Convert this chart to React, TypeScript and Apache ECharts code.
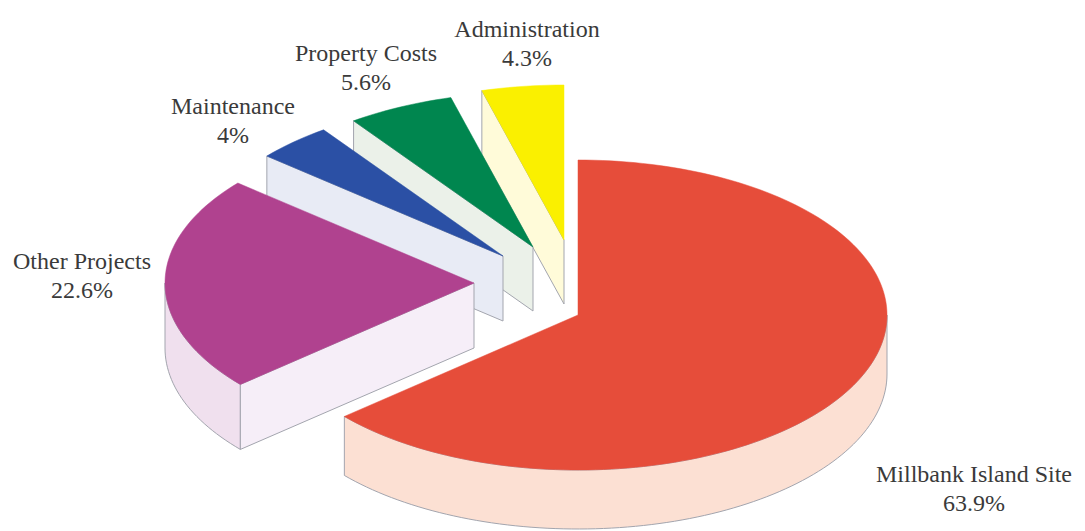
import React, { useEffect, useRef } from "react";
import * as echarts from "echarts";

const categories = ["Millbank Island Site", "Other Projects", "Maintenance", "Property Costs", "Administration"];
const percentages = [63.9, 22.6, 4, 5.6, 4.3];

const topColors = ["#E64D3A", "#B0428F", "#2B50A5", "#00864F", "#FAF000"];
const rimColors = ["#FCE0D3", "#F0E0EE", "#E8EBF5", "#EBF1E9", "#FFFBD9"];
const faceColors = ["#FCE0D3", "#F6EEF8", "#E8EBF5", "#EBF1E9", "#FFFBD9"];

// Where each exploded slice's point sits, and how thick it is drawn.
const apexX = [578, 474, 503, 533, 564];
const apexY = [315, 283, 256, 247, 240];
const depths = [59, 65, 65, 64, 64];
const labelX = [974, 82, 233, 366, 527];
const labelY = [488, 275, 120, 67, 43];

const RX = 309;
const RY = 155;
const EDGE = "#A3A5AE";

const total = percentages.reduce((a, b) => a + b, 0);

// Slices are painted from the back of the pie to the front.
const paintOrder = categories.map((_, i) => i).reverse();

function startAngle(i: number) {
  let sum = 0;
  for (let k = 0; k < i; k++) sum += percentages[k];
  return (sum / total) * 360;
}

function rimPoint(i: number, deg: number, drop = 0): number[] {
  const a = (deg * Math.PI) / 180;
  return [apexX[i] + RX * Math.sin(a), apexY[i] - RY * Math.cos(a) + drop];
}

function arcPoints(i: number, from: number, to: number, drop = 0): number[][] {
  const steps = Math.max(2, Math.ceil(Math.abs(to - from) / 1.5));
  const pts: number[][] = [];
  for (let s = 0; s <= steps; s++) pts.push(rimPoint(i, from + ((to - from) * s) / steps, drop));
  return pts;
}

function renderSlice(params: any, api: any) {
  const i = paintOrder[params.dataIndex];
  const from = startAngle(i);
  const to = from + (api.value(0) / total) * 360;
  const depth = depths[i];
  const apex = [apexX[i], apexY[i]];
  const children: any[] = [];

  // Curved outer wall, only where it faces the viewer.
  const wallFrom = Math.max(from, 90);
  const wallTo = Math.min(to, 270);
  if (wallTo > wallFrom) {
    const upper = arcPoints(i, wallFrom, wallTo);
    const lower = arcPoints(i, wallFrom, wallTo, depth).reverse();
    children.push({
      type: "polygon",
      shape: { points: upper.concat(lower) },
      style: { fill: rimColors[i], stroke: EDGE, lineWidth: 1 },
    });
  }

  // Flat cut face along the slice's leading edge.
  if (from > 180) {
    const outer = rimPoint(i, from);
    children.push({
      type: "polygon",
      shape: { points: [apex, outer, [outer[0], outer[1] + depth], [apex[0], apex[1] + depth]] },
      style: { fill: faceColors[i], stroke: EDGE, lineWidth: 1 },
    });
  }

  // Top surface.
  children.push({
    type: "polygon",
    shape: { points: [apex].concat(arcPoints(i, from, to)) },
    style: { fill: topColors[i], stroke: topColors[i], lineWidth: 0.5 },
  });

  children.push({
    type: "text",
    x: labelX[i],
    y: labelY[i],
    style: {
      text: `${categories[i]}\n${percentages[i]}%`,
      fill: "#3A3A3A",
      font: '24px "Liberation Serif"',
      lineHeight: 29,
      align: "center",
      verticalAlign: "middle",
    },
  });

  return { type: "group", children };
}

export default function App() {
  const ref = useRef<HTMLDivElement>(null);

  useEffect(() => {
    const chart = echarts.init(ref.current!, undefined, { renderer: "svg" });
    chart.setOption({
      animation: false,
      backgroundColor: "#FFFFFF",
      series: [
        {
          type: "custom",
          coordinateSystem: "none",
          renderItem: renderSlice,
          data: paintOrder.map((i) => ({ name: categories[i], value: [percentages[i]] })),
          silent: true,
        },
      ],
    });
    return () => chart.dispose();
  }, []);

  return <div ref={ref} style={{ position: "fixed", left: 0, top: 0, width: 1085, height: 531 }} />;
}
